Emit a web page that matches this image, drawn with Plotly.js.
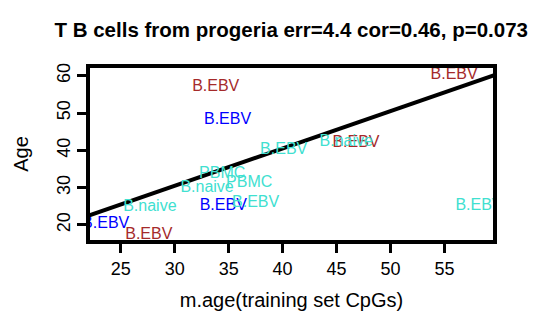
<!DOCTYPE html>
<html>
<head>
<meta charset="utf-8">
<script src="https://cdn.plot.ly/plotly-3.0.1.min.js"></script>
<style>html,body{margin:0;padding:0;background:#fff;}#chart{width:559px;height:331px;}</style>
</head>
<body>
<div id="chart"></div>
<script>
// Brown group
const brownX = [33.8, 46.8, 55.9, 27.6];
const brownY = [56.9, 42.0, 60.2, 17.3];
const brownLabels = ["B.EBV", "B.EBV", "B.EBV", "B.EBV"];
// Blue group
const blueX = [34.9, 34.5, 23.6];
const blueY = [48.1, 25.0, 20.2];
const blueLabels = ["B.EBV", "B.EBV", "B.EBV"];
// Turquoise group
const turqX = [40.1, 45.9, 58.2, 34.4, 36.9, 33.0, 27.7, 37.5];
const turqY = [40.1, 42.2, 25.2, 33.6, 31.2, 30.0, 24.9, 25.8];
const turqLabels = ["B.EBV", "B.naive", "B.EBV", "PBMC", "PBMC", "B.naive", "B.naive", "B.EBV"];
// Fitted line
const lineIntercept = 0.5;
const lineSlope = 1.0;
const xRange = [22.15, 59.5];
const yRange = [15.98, 62.06];
const xTicks = [25, 30, 35, 40, 45, 50, 55];
const yTicks = [20, 30, 40, 50, 60];

const font = "Liberation Sans, Arial, sans-serif";
function textTrace(x, y, t, color) {
  return {x: x, y: y, text: t, mode: 'text', type: 'scatter',
    textposition: 'middle center', cliponaxis: true,
    textfont: {family: font, size: 16, color: color}, hoverinfo: 'none', showlegend: false};
}
const lineX = [xRange[0] - 1, xRange[1] + 1];
const traces = [
  {x: lineX, y: lineX.map(v => lineIntercept + lineSlope * v), mode: 'lines', type: 'scatter',
   line: {color: '#000', width: 4}, hoverinfo: 'none', showlegend: false, cliponaxis: true},
  textTrace(brownX, brownY, brownLabels, '#A52A2A'),
  textTrace(blueX, blueY, blueLabels, '#0000FF'),
  textTrace(turqX, turqY, turqLabels, '#40E0D0')
];
const layout = {
  width: 559, height: 331,
  margin: {l: 90, r: 66, t: 68, b: 91},
  paper_bgcolor: '#fff', plot_bgcolor: '#fff',
  title: {text: '<b>T B cells from progeria err=4.4 cor=0.46, p=0.073</b>',
    font: {family: font, size: 20.5, color: '#000'}, x: 0.521, xanchor: 'center', y: 0.91, yanchor: 'middle'},
  xaxis: {range: xRange, tickvals: xTicks, ticktext: xTicks.map(String), showgrid: false, zeroline: false,
    showline: true, mirror: true, linewidth: 4, linecolor: '#000', ticks: 'outside', ticklen: 9, tickwidth: 3,
    tickcolor: '#000', tickfont: {family: font, size: 18, color: '#000'},
    title: {text: 'm.age(training set CpGs)', font: {family: font, size: 20, color: '#000'}, standoff: 16}},
  yaxis: {range: yRange, tickvals: yTicks, ticktext: yTicks.map(String), showgrid: false, zeroline: false,
    showline: true, mirror: true, linewidth: 4, linecolor: '#000', ticks: 'outside', ticklen: 9, tickwidth: 3,
    tickcolor: '#000', tickangle: -90, tickfont: {family: font, size: 18, color: '#000'},
    title: {text: 'Age', font: {family: font, size: 20, color: '#000'}, standoff: 21}}
};
Plotly.newPlot('chart', traces, layout, {staticPlot: true, displayModeBar: false});
</script>
</body>
</html>
